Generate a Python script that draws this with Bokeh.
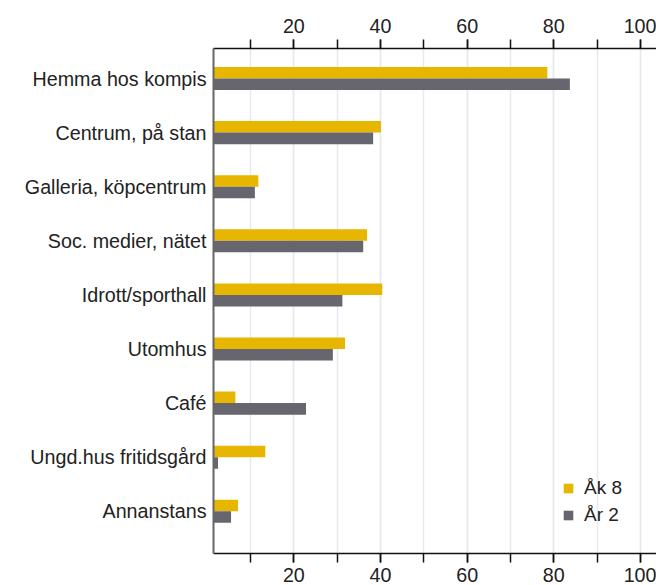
from bokeh.plotting import figure
from bokeh.models import (Range1d, LinearAxis, SingleIntervalTicker, FixedTicker,
                          Legend, LegendItem, ColumnDataSource)
from bokeh.embed import file_html
from bokeh.resources import INLINE

categories = ["Hemma hos kompis", "Centrum, på stan", "Galleria, köpcentrum",
              "Soc. medier, nätet", "Idrott/sporthall", "Utomhus", "Café",
              "Ungd.hus fritidsgård", "Annanstans"]
ak8 = [78.5, 40.1, 11.8, 36.9, 40.4, 31.8, 6.5, 13.4, 7.1]
ar2 = [83.7, 38.3, 11.0, 36.0, 31.2, 29.0, 22.8, 2.5, 5.5]
series_names = ["Åk 8", "År 2"]
colors = ["#E6B600", "#67656E"]

FONT = "Liberation Sans"
FS = "19.7px"
BAR_H = 0.213

pos = list(range(len(categories)))
src = ColumnDataSource(dict(
    cat=categories,
    y_ak8=[i - BAR_H / 2 for i in pos],
    y_ar2=[i + BAR_H / 2 for i in pos],
    ak8=ak8, ar2=ar2,
))

p = figure(width=656, height=585,
           x_range=Range1d(1.45, 103.7), y_range=Range1d(8.78, -0.555),
           output_backend="svg", toolbar_location=None,
           min_border_left=213, min_border_right=0, min_border_top=48,
           min_border_bottom=32)
p.outline_line_color = None
p.background_fill_color = "white"

r1 = p.hbar(y="y_ak8", right="ak8", left=0, height=BAR_H, source=src,
            fill_color=colors[0], line_color=None)
r2 = p.hbar(y="y_ar2", right="ar2", left=0, height=BAR_H, source=src,
            fill_color=colors[1], line_color=None)

def style_x(ax, standoff):
    ax.ticker = SingleIntervalTicker(interval=20, num_minor_ticks=2)
    ax.axis_line_color = "#111111"
    ax.axis_line_width = 1.5
    ax.major_tick_line_color = "#111111"
    ax.major_tick_line_width = 1.5
    ax.minor_tick_line_color = "#111111"
    ax.minor_tick_line_width = 1.5
    ax.major_tick_in = 0
    ax.major_tick_out = 9
    ax.minor_tick_in = 0
    ax.minor_tick_out = 9
    ax.major_label_text_font = FONT
    ax.major_label_text_font_size = FS
    ax.major_label_text_color = "#222222"
    ax.major_label_standoff = standoff

style_x(p.xaxis[0], 5)
top_ax = LinearAxis()
style_x(top_ax, 7)
p.add_layout(top_ax, "above")

yax = p.yaxis[0]
yax.ticker = FixedTicker(ticks=pos)
yax.major_label_overrides = {i: c for i, c in zip(pos, categories)}
yax.major_tick_line_color = None
yax.minor_tick_line_color = None
yax.major_tick_out = 0
yax.major_tick_in = 0
yax.axis_line_color = "#666666"
yax.axis_line_width = 2
yax.major_label_standoff = 7
yax.major_label_text_font = FONT
yax.major_label_text_font_size = FS
yax.major_label_text_color = "#222222"

p.ygrid.grid_line_color = None
p.xgrid.ticker = SingleIntervalTicker(interval=20, num_minor_ticks=2)
p.xgrid.grid_line_color = "#E6E9EF"
p.xgrid.grid_line_width = 1.5
p.xgrid.minor_grid_line_color = "#E6E9EF"
p.xgrid.minor_grid_line_width = 1.5

legend = Legend(items=[LegendItem(label=series_names[0], renderers=[r1]),
                       LegendItem(label=series_names[1], renderers=[r2])],
                location=(349, 27), orientation="vertical")
legend.background_fill_alpha = 0
legend.border_line_color = None
legend.padding = 0
legend.margin = 0
legend.spacing = 5
legend.glyph_width = 12
legend.glyph_height = 12
legend.label_standoff = 10
legend.label_height = 20
legend.label_text_font = FONT
legend.label_text_font_size = "19px"
legend.label_text_color = "#222222"
p.add_layout(legend, "center")

open("out.html", "w").write(file_html(p, INLINE))
